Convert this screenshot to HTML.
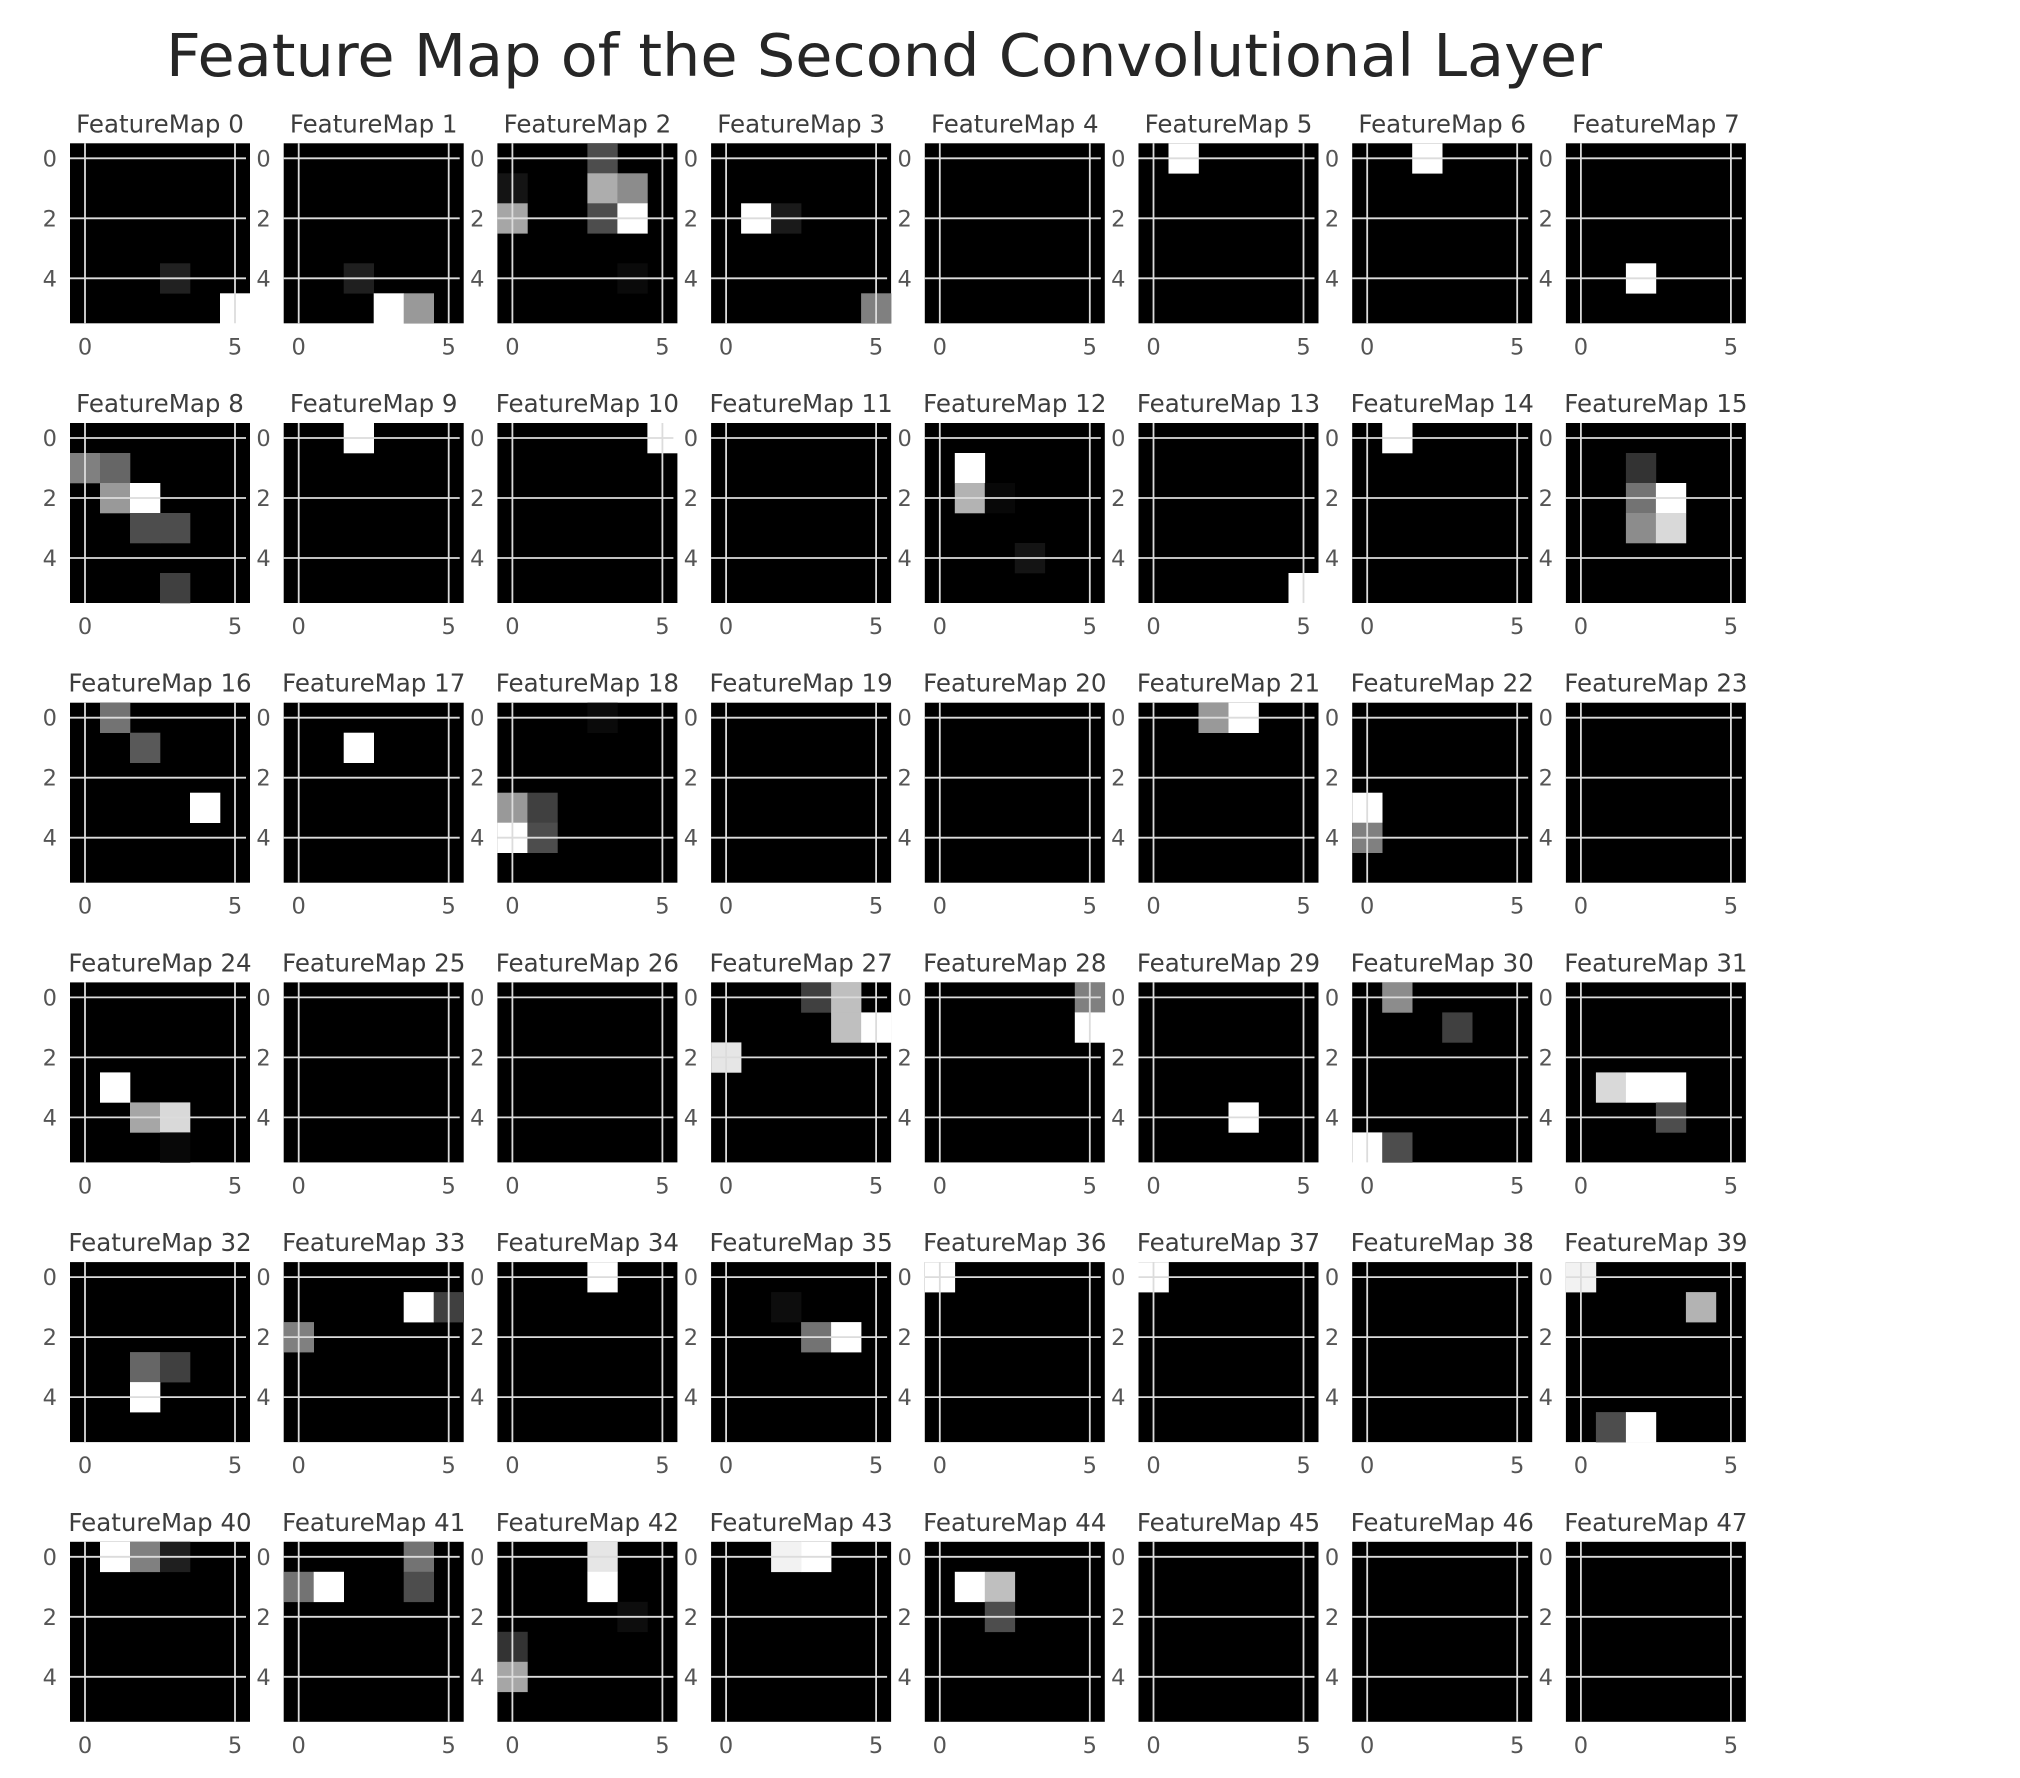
<!DOCTYPE html>
<html><head><meta charset="utf-8"><style>
html,body{margin:0;padding:0;background:#fff;}
svg{display:block;}
text{font-family:"DejaVu Sans","Liberation Sans",sans-serif;}
</style></head><body>
<svg id="chart" xmlns="http://www.w3.org/2000/svg" width="2020" height="1778" viewBox="0 0 2020 1778">
<rect x="0" y="0" width="2020" height="1778" fill="#fff"/>
<text x="884" y="76" font-size="59" fill="#262626" text-anchor="middle" textLength="1436" lengthAdjust="spacingAndGlyphs">Feature Map of the Second Convolutional Layer</text>
<g id="panels"></g>
</svg>
<script>
// Non-zero activations per feature map: [row, col, intensity 0..1]
const mapCount = 48;
const gridSize = 6;
const xTickLabels = ["0", "5"];
const xTickValues = [0, 5];
const yTickLabels = ["0", "2", "4"];
const yTickValues = [0, 2, 4];
const activations = [
  [[4,3,0.13],[5,5,1]],
  [[4,2,0.12],[5,3,1],[5,4,0.6]],
  [[0,3,0.3],[1,0,0.08],[1,3,0.68],[1,4,0.55],[2,0,0.65],[2,3,0.3],[2,4,1],[4,4,0.04]],
  [[2,1,1],[2,2,0.1],[5,5,0.5]],
  [],
  [[0,1,1]],
  [[0,2,1]],
  [[4,2,1]],
  [[1,0,0.5],[1,1,0.4],[2,1,0.6],[2,2,1],[3,2,0.3],[3,3,0.3],[5,3,0.25]],
  [[0,2,1]],
  [[0,5,1]],
  [],
  [[1,1,1],[2,1,0.7],[2,2,0.03],[4,3,0.08]],
  [[5,5,1]],
  [[0,1,1]],
  [[1,2,0.2],[2,2,0.45],[2,3,1],[3,2,0.55],[3,3,0.85]],
  [[0,1,0.45],[1,2,0.35],[3,4,1]],
  [[1,2,1]],
  [[0,3,0.04],[3,0,0.6],[3,1,0.25],[4,0,1],[4,1,0.3]],
  [],
  [],
  [[0,2,0.6],[0,3,1]],
  [[3,0,1],[4,0,0.5]],
  [],
  [[3,1,1],[4,2,0.65],[4,3,0.85],[5,3,0.03]],
  [],
  [],
  [[0,3,0.25],[0,4,0.75],[1,4,0.75],[1,5,1],[2,0,0.9]],
  [[0,5,0.5],[1,5,1]],
  [[4,3,1]],
  [[0,1,0.55],[1,3,0.25],[5,0,1],[5,1,0.3]],
  [[3,1,0.85],[3,2,1],[3,3,1],[4,3,0.3]],
  [[3,2,0.4],[3,3,0.25],[4,2,1]],
  [[1,4,1],[1,5,0.25],[2,0,0.5]],
  [[0,3,1]],
  [[1,2,0.05],[2,3,0.45],[2,4,1]],
  [[0,0,1]],
  [[0,0,1]],
  [],
  [[0,0,0.95],[1,4,0.7],[5,1,0.3],[5,2,1]],
  [[0,1,1],[0,2,0.5],[0,3,0.12]],
  [[0,4,0.45],[1,4,0.3],[1,0,0.45],[1,1,1]],
  [[0,3,0.9],[1,3,1],[2,4,0.05],[3,0,0.2],[4,0,0.65]],
  [[0,2,0.95],[0,3,1]],
  [[1,1,1],[1,2,0.75],[2,2,0.3]],
  [],
  [],
  []
];

const NS = "http://www.w3.org/2000/svg";
const root = document.getElementById("panels");
const colPitch = 213.7, rowPitch = 279.7, left0 = 70, top0 = 143.3, size = 180;
const cell = size / gridSize;

function mk(tag, attrs) {
  const e = document.createElementNS(NS, tag);
  for (const k in attrs) e.setAttribute(k, attrs[k]);
  return e;
}

for (let i = 0; i < mapCount; i++) {
  const c = i % 8, r = Math.floor(i / 8);
  const px = left0 + c * colPitch, py = top0 + r * rowPitch;
  const xs = v => px + (v + 0.5) * cell;
  const ys = v => py + (v + 0.5) * cell;
  const g = mk("g", {});
  
  

  const t = mk("text", {x: px + size / 2, y: py - 11, "font-size": 24.5, fill: "#3d3d3d", "text-anchor": "middle"});
  t.textContent = "FeatureMap " + i;
  
  
  g.appendChild(t);

  const bg = mk("rect", {x: px, y: py, width: size, height: size, fill: "#000"});
  
  
  g.appendChild(bg);

  activations[i].forEach(a => {
    const v = Math.round(a[2] * 255);
    const rc = mk("rect", {x: xs(a[1] - 0.5), y: ys(a[0] - 0.5), width: cell + 0.3, height: cell + 0.3, fill: `rgb(${v},${v},${v})`});
    
    
    g.appendChild(rc);
  });

  yTickValues.forEach((v, k) => {
    const ln = mk("line", {x1: px, x2: px + size - 4, y1: ys(v), y2: ys(v), stroke: "#dcdcdc", "stroke-width": 1.8});
    
    
    g.appendChild(ln);
    const lb = mk("text", {x: px - 13, y: ys(v) + 8, "font-size": 22.5, fill: "#555", "text-anchor": "end"});
    lb.textContent = yTickLabels[k];
    
    
    g.appendChild(lb);
  });
  xTickValues.forEach((v, k) => {
    const ln = mk("line", {x1: xs(v), x2: xs(v), y1: py, y2: py + size, stroke: "#dcdcdc", "stroke-width": 1.8});
    
    
    g.appendChild(ln);
    const lb = mk("text", {x: xs(v), y: py + 211, "font-size": 22.5, fill: "#555", "text-anchor": "middle"});
    lb.textContent = xTickLabels[k];
    
    
    g.appendChild(lb);
  });
  root.appendChild(g);
}
</script>
</body></html>
